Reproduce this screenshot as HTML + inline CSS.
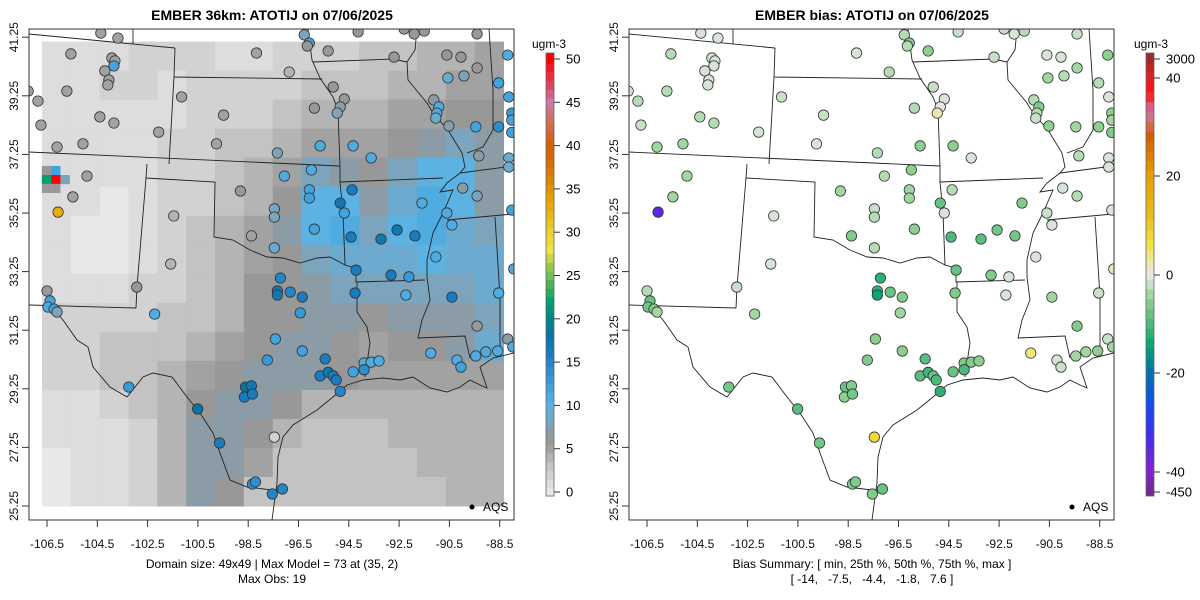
<!DOCTYPE html>
<html><head><meta charset="utf-8">
<style>
html,body{margin:0;padding:0;background:#fff;}
svg{display:block;font-family:"Liberation Sans",sans-serif;}
</style></head>
<body>
<svg id="chart" width="1200" height="600" viewBox="0 0 1200 600" xmlns="http://www.w3.org/2000/svg">
  <rect x="0" y="0" width="1200" height="600" fill="#fff"/>
  <text x="272" y="20" text-anchor="middle" font-size="14" font-weight="bold">EMBER 36km: ATOTIJ on 07/06/2025</text>
  <text x="872" y="20" text-anchor="middle" font-size="14" font-weight="bold">EMBER bias: ATOTIJ on 07/06/2025</text>
  <g id="leftPanel"></g>
  <g id="rightPanel" transform="translate(600,0)"></g>
  <g id="cbars"></g>
  <text x="272" y="568" text-anchor="middle" font-size="12">Domain size: 49x49 | Max Model = 73 at (35, 2)</text>
  <text x="272" y="583" text-anchor="middle" font-size="12">Max Obs: 19</text>
  <text x="872" y="568" text-anchor="middle" font-size="12">Bias Summary: [ min, 25th %, 50th %, 75th %, max ]</text>
  <text x="872" y="583" text-anchor="middle" font-size="12" xml:space="preserve">[ -14,   -7.5,   -4.4,   -1.8,   7.6 ]</text>
</svg>
<script>
// ---- data ----
const siteLon = [-104.36,-103.68,-105.55,-103.92,-103.80,-103.84,-104.2,-104.04,-104.08,-107.25,-105.71,-106.86,-104.4,-103.84,-106.74,-102.06,-106.1,-105.07,-104.91,-105.47,-106.06,-101.15,-99.48,-99.76,-98.17,-96.87,-96.27,-96.07,-96.15,-95.32,-94.13,-92.3,-91.9,-91.5,-89.4,-92.7,-90.6,-90.04,-90.56,-89.92,-89.4,-88.18,-95.12,-94.68,-95.87,-94.84,-94.96,-88.54,-88.14,-91.12,-90.92,-91.0,-91.04,-90.52,-89.45,-88.54,-88.02,-88.02,-88.02,-95.64,-94.33,-97.34,-93.61,-89.33,-88.14,-88.14,-97.06,-95.99,-98.81,-96.07,-96.07,-94.37,-94.84,-94.68,-89.97,-89.4,-91.59,-90.6,-90.4,-88.02,-97.46,-97.46,-101.46,-98.37,-95.87,-94.41,-93.22,-92.58,-91.87,-97.46,-91.04,-87.94,-101.58,-102.93,-106.5,-97.22,-94.21,-92.82,-92.11,-92.23,-90.4,-97.34,-97.34,-96.83,-96.35,-94.25,-106.38,-106.46,-106.22,-106.1,-102.22,-96.43,-88.54,-89.4,-88.18,-87.98,-88.58,-89.05,-89.45,-90.2,-90.04,-91.24,-97.42,-96.35,-97.74,-95.44,-93.89,-93.61,-93.3,-93.89,-94.33,-95.64,-95.32,-95.12,-95.0,-94.84,-98.61,-98.37,-98.65,-98.33,-103.25,-100.51,-99.64,-97.46,-98.33,-98.21,-97.54,-97.14];
const siteLat = [41.39,41.22,40.68,40.54,40.44,40.27,40.10,39.79,39.62,39.41,39.41,39.07,38.53,38.32,38.25,38.01,37.5,37.61,36.51,35.8,35.28,39.21,38.59,37.61,40.71,40.06,41.33,41.05,40.95,40.78,41.43,41.53,41.36,41.46,41.36,40.57,40.64,40.57,39.86,39.93,40.2,40.64,39.55,39.14,38.83,38.87,38.66,39.69,39.21,39.11,38.87,38.66,38.49,38.22,38.19,38.19,38.66,38.42,38.0,37.54,37.54,37.3,37.13,37.2,37.13,36.82,36.51,36.72,36.0,36.04,35.76,36.04,35.59,35.25,36.1,35.83,35.59,35.25,34.84,35.35,35.39,35.11,35.15,34.47,34.7,34.43,34.36,34.67,34.47,34.06,33.75,33.34,33.51,32.72,32.59,33.03,33.3,33.13,33.07,32.45,32.38,32.59,32.45,32.55,32.38,32.52,32.25,32.04,31.97,31.87,31.8,31.84,32.52,31.39,30.95,30.68,30.54,30.51,30.37,30.23,29.99,30.47,30.95,30.54,30.23,30.27,30.13,30.16,30.2,29.9,29.83,29.69,29.81,29.69,29.55,29.16,29.31,29.35,28.97,29.07,29.31,28.56,27.4,27.6,26.0,26.07,25.66,25.83];
const obsValues = [5,5,5,5,5,12,5,5,5,5,5,5,5,5,5,5,5,5,5,5,33,5,5,5,5,4,8,12,6,6,6,6,6,6,6,6,6,6,9,8,6,11,6,6,6,7,8,12,12,7,11,11,9,7,12,14,13,12,12,11,11,8,11,7,9,9,11,11,6,12,12,16,17,12,7,8,11,11,11,12,8,8,4,5,12,16,17,17,16,9,11,11,4,6,6,15,16,16,13,11,16,17,17,15,16,16,12,11,12,8,11,13,11,6,7,11,11,11,11,11,12,11,12,12,13,16,11,11,11,14,12,16,17,16,16,15,18,17,16,16,13,18,16,2,14,14,15,15];
const biasValues = [-1,-1,-3,-1,-1,-1,-1,-1,-1,-1,-3,-3,-3,-3,-2,-1,-4,-4,-4,-4,-35,-2,-2,-1,-1,-3,-3,-6,-3,-5,-2,-2,-1,-3,-2,-2,-1,-1,-4,-3,-4,-5,-2,-1,-3,0,2,-3,-1,-3,-6,-3,-2,-5,-4,-5,-5,-4,-6,-5,-5,-3,-1,-3,-1,-1,-3,-5,-4,-4,-4,-3,-8,-1,-1,-3,-6,-2,-1,-1,-2,-3,-1,-6,-5,-10,-9,-7,-7,-3,-1,2,-1,-2,-3,-12,-8,-6,-1,-1,-4,-12,-14,-8,-6,-6,-8,-7,-6,-4,-4,-4,-2,-6,-2,-4,-5,-4,-4,-1,-2,4,-5,-5,-6,-9,-6,-6,-5,-10,-8,-9,-11,-8,-10,-12,-8,-6,-5,-7,-7,-9,-7,7.6,-6,-6,-6,-8];
// model grid (16 x 16, rows north->south), ugm-3
const gridValues = [
[1,1,1,2,2,2,1,1,2,2,2,3,3,4,4,5],
[1,1,2,2,1,2,2,2,2,3,3,3,4,4,5,5],
[1,1,1,1,1,2,2,2,3,4,4,4,5,5,6,6],
[1,1,1,1,2,2,3,3,4,5,5,5,6,7,8,7],
[1,1,1,1,2,2,3,4,5,8,7,6,8,10,10,7],
[1,1,0,1,2,2,3,4,6,10,10,7,9,11,10,7],
[1,0,0,1,2,3,4,5,7,10,11,8,10,11,9,8],
[1,0,0,1,2,3,4,5,6,8,9,9,9,10,9,9],
[1,1,1,2,2,3,4,6,6,7,8,8,8,8,8,9],
[2,2,2,2,3,3,4,6,6,7,7,6,7,7,7,8],
[2,2,3,3,3,4,5,6,7,7,6,5,6,6,7,9],
[2,2,3,3,4,5,6,7,7,7,6,5,5,5,5,5],
[1,1,2,3,4,6,7,7,6,4,4,4,4,4,4,4],
[1,1,1,2,4,7,7,6,4,3,3,3,4,4,4,4],
[0,1,1,2,4,7,7,5,3,3,3,3,3,4,4,4],
[0,1,1,2,4,7,6,3,3,3,3,3,3,3,4,4]];
const hotLon = [-106.52,-106.15,-106.52,-106.15,-105.78,-106.52,-106.15];
const hotLat = [36.7,36.7,36.39,36.39,36.39,36.09,36.09];
const hotVal = [6,12,22,73,8,6,6];
const lonTicks = [-106.5,-104.5,-102.5,-100.5,-98.5,-96.5,-94.5,-92.5,-90.5,-88.5];
const latTicks = [41.25,39.25,37.25,35.25,33.25,31.25,29.25,27.25,25.25];
const obsTicks = [0,5,10,15,20,25,30,35,40,45,50];
const biasTicks = [-450,-40,-20,0,20,40,3000];

// ---- scales ----
const NS='http://www.w3.org/2000/svg';
function xS(lon){return 47+(lon+106.5)*25.15;}
function yS(lat){return 506-(lat-25.25)*29.3;}
const gridLon0=-106.7, gridLon1=-88.35, gridLat0=25.25, gridLat1=41.1;
function hex(c){return [parseInt(c.slice(1,3),16),parseInt(c.slice(3,5),16),parseInt(c.slice(5,7),16)];}
function interp(stops,v){
  if(v<=stops[0][0])return stops[0][1];
  for(let i=1;i<stops.length;i++){
    if(v<=stops[i][0]){
      const a=hex(stops[i-1][1]),b=hex(stops[i][1]),t=(v-stops[i-1][0])/(stops[i][0]-stops[i-1][0]);
      return 'rgb('+a.map((x,k)=>Math.round(x+(b[k]-x)*t)).join(',')+')';
    }
  }
  return stops[stops.length-1][1];
}
const obsStops=[[0,'#e8e8e8'],[2,'#d2d2d2'],[4,'#b4b4b4'],[5,'#a2a2a2'],[6,'#989898'],[7,'#8c9ca6'],[8,'#7ca4bc'],[10,'#5cb2e2'],[12,'#42a4de'],[14,'#2c8ecf'],[16,'#1a7cbe'],[18,'#0674a6'],[20,'#00868a'],[22,'#00a070'],[24,'#4cb35c'],[26,'#96c84c'],[28,'#f0e442'],[31,'#ebc422'],[34,'#e69f00'],[38,'#d86c00'],[40,'#d55e00'],[43,'#d07060'],[45,'#cc79a7'],[47,'#e24262'],[50,'#ff0000']];
const biasStops=[[-450,'#6a2a8a'],[-40,'#8a20d0'],[-32,'#3a30f0'],[-26,'#1050e8'],[-20,'#0072b2'],[-15,'#009e73'],[-10,'#4cba7c'],[-5,'#8dd08d'],[-3,'#b5dcb5'],[-1,'#d8e4d8'],[0,'#e6e6e6'],[2,'#ede6b0'],[6,'#f0e442'],[12,'#ecbc1c'],[20,'#e69f00'],[28,'#d55e00'],[33,'#cc79a7'],[37,'#ff1010'],[40,'#e02020'],[3000,'#a02828']];
function colObs(v){return interp(obsStops,v);}
function colBias(v){return interp(biasStops,v);}
function el(tag,attrs,parent){const e=document.createElementNS(NS,tag);for(const k in attrs)e.setAttribute(k,attrs[k]);parent.appendChild(e);return e;}

// ---- borders (map geometry, panel pixel coords) ----
const borders=[
 [[29,34],[175,48]],[[133,29],[133,44]],[[175,48],[174,77],[322,79]],
 [[308,29],[312,60],[320,78],[333,97],[338,110],[340,167],[340,182],[343,213],[345,265],[356,268],[356,282],[425,280]],
 [[313,62],[393,59],[407,62]],
 [[417,29],[415,50],[407,62],[408,80],[427,103],[433,113],[448,130],[462,153],[465,167],[460,173],[447,183],[440,192],[453,190],[443,213],[433,233],[427,260],[427,277],[430,300],[422,320],[418,338],[465,336],[470,358]],
 [[29,152],[340,166]],[[174,77],[169,164]],
 [[340,182],[443,178]],[[460,173],[513,166]],[[447,220],[513,214]],
 [[495,217],[500,297],[500,352]],
 [[489,29],[493,90],[493,130],[483,147],[467,153]],
 [[147,164],[146,178],[137,287],[136,308]],[[146,178],[215,182],[214,237],[233,240],[250,250],[267,257],[283,258],[300,263],[317,258],[330,257],[345,265]],
 [[357,282],[357,312],[367,327],[370,343],[367,363],[365,377]],
 [[29,305],[136,308]],
 [[52,308],[63,320],[77,340],[88,347],[93,367],[110,387],[127,397],[143,377],[153,373],[172,377],[187,397],[200,413],[213,433],[220,453],[230,480],[247,487],[272,490],[280,490]],
 [[272,520],[277,483],[278,457],[283,437],[293,425],[317,410],[333,397],[347,385],[363,380],[383,378],[400,380],[413,377],[430,388],[447,392],[460,387],[470,380],[480,385],[487,388],[480,367],[493,358],[514,353]]
];

function drawPanel(g,isBias){
  const clipId=isBias?'clipR':'clipL';
  const defs=el('defs',{},g);
  const cp=el('clipPath',{id:clipId},defs);
  el('rect',{x:29,y:29,width:485,height:491},cp);
  const inner=el('g',{'clip-path':'url(#'+clipId+')'},g);
  if(!isBias){
    const rg=el('g',{},inner);
    
    
    const nr=gridValues.length,nc=gridValues[0].length;
    const dLon=(gridLon1-gridLon0)/nc,dLat=(gridLat1-gridLat0)/nr;
    for(let r=0;r<nr;r++)for(let c=0;c<nc;c++){
      const x0=xS(gridLon0+c*dLon),x1=xS(gridLon0+(c+1)*dLon);
      const y0=yS(gridLat1-r*dLat),y1=yS(gridLat1-(r+1)*dLat);
      const cell=el('rect',{x:x0,y:y0,width:x1-x0+0.5,height:y1-y0+0.5,fill:colObs(gridValues[r][c])},rg);
      
      
    }
    for(let i=0;i<hotVal.length;i++){
      const h=el('rect',{x:xS(hotLon[i])-4.7,y:yS(hotLat[i])-4.6,width:9.4,height:9.2,fill:colObs(hotVal[i])},rg);
      
      
    }
  }
  const bg=el('g',{fill:'none',stroke:'#222','stroke-width':0.9},inner);
  
  
  borders.forEach(b=>{el('polyline',{points:b.map(p=>p.join(',')).join(' ')},bg);});
  const dg=el('g',{},inner);
  
  
  for(let i=0;i<siteLon.length;i++){
    const c=el('circle',{cx:xS(siteLon[i]),cy:yS(siteLat[i]),r:5.2,fill:isBias?colBias(biasValues[i]):colObs(obsValues[i]),stroke:'#333','stroke-width':0.8},dg);
    
    
  }
  const fr=el('rect',{x:29,y:29,width:485,height:491,fill:'none',stroke:'#333','stroke-width':1},g);
  
  
  const xa=el('g',{},g);
  
  
  lonTicks.forEach(t=>{
    const x=xS(t);
    el('line',{x1:x,y1:520,x2:x,y2:527,stroke:'#333'},xa);
    const tx=el('text',{x:x,y:548,'text-anchor':'middle','font-size':12,fill:'#111'},xa);
    tx.textContent=String(t);
    
    
  });
  const ya=el('g',{},g);
  
  
  latTicks.forEach(t=>{
    const y=yS(t);
    el('line',{x1:22,y1:y,x2:29,y2:y,stroke:'#333'},ya);
    const tx=el('text',{x:18,y:y,'text-anchor':'middle','font-size':12,fill:'#111',transform:'rotate(-90 18 '+y+')'},ya);
    tx.textContent=t.toFixed(2);
    
    
  });
  const lg=el('g',{},g);
  
  
  el('circle',{cx:472,cy:507,r:2.5,fill:'#000'},lg);
  const lt=el('text',{x:483,y:511,'font-size':12},lg);
  lt.textContent='AQS';
}
drawPanel(document.getElementById('leftPanel'),false);
drawPanel(document.getElementById('rightPanel'),true);

// ---- colorbars ----
const cb=document.getElementById('cbars');
(function(){
  const g=el('g',{},cb);
  
  
  const y0v=492,y50=59,per=(y0v-y50)/50;
  for(let v=-0.5;v<50.6;v+=1){
    const yTop=y0v-(v+1)*per, yy=Math.max(53,yTop);
    const hgt=Math.min(496,y0v-v*per)-yy;
    if(hgt>0)el('rect',{x:546,y:yy,width:8,height:hgt+0.4,fill:colObs(v+0.5)},g);
  }
  el('rect',{x:546,y:53,width:8,height:443,fill:'none',stroke:'#666','stroke-width':0.8},g);
  obsTicks.forEach(t=>{
    const y=y0v-t*per;
    el('line',{x1:554,y1:y,x2:560,y2:y,stroke:'#333'},g);
    const tx=el('text',{x:566,y:y+4.5,'font-size':13},g);
    tx.textContent=String(t);
  });
  const u=el('text',{x:549,y:48,'text-anchor':'middle','font-size':12},g);
  u.textContent='ugm-3';
})();
(function(){
  const g=el('g',{},cb);
  
  
  const tickY=[492,472,373,275,176,78,59];
  function yToBias(y){
    if(y>=tickY[0])return biasTicks[0];
    for(let i=1;i<tickY.length;i++){
      if(y>=tickY[i]){const t=(tickY[i-1]-y)/(tickY[i-1]-tickY[i]);return biasTicks[i-1]+t*(biasTicks[i]-biasTicks[i-1]);}
    }
    return biasTicks[biasTicks.length-1];
  }
  for(let y=53;y<496;y+=9.85){
    el('rect',{x:1146,y:y,width:8,height:Math.min(10.2,496-y),fill:colBias(yToBias(y+5))},g);
  }
  el('rect',{x:1146,y:53,width:8,height:443,fill:'none',stroke:'#666','stroke-width':0.8},g);
  biasTicks.forEach((t,i)=>{
    const y=tickY[i];
    el('line',{x1:1154,y1:y,x2:1160,y2:y,stroke:'#333'},g);
    const tx=el('text',{x:1166,y:y+4.5,'font-size':13},g);
    tx.textContent=String(t);
  });
  const u=el('text',{x:1151,y:48,'text-anchor':'middle','font-size':12},g);
  u.textContent='ugm-3';
})();
</script>
</body></html>
